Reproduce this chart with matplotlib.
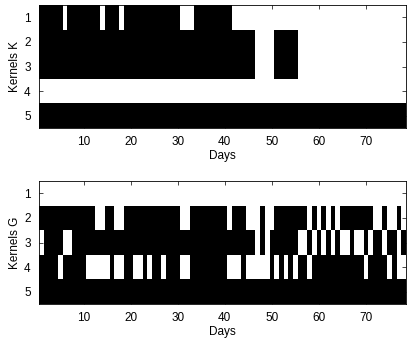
import numpy as np
import matplotlib
matplotlib.use("Agg")
import matplotlib.pyplot as plt

plt.rcParams["font.family"] = ["Liberation Sans", "DejaVu Sans"]

n_days = 78
days = np.arange(1, n_days + 1)
kernels = [1, 2, 3, 4, 5]
x_ticks = [10, 20, 30, 40, 50, 60, 70]


def span(a, b):
    return list(range(a, b + 1))


# days on which each kernel was selected (black cells)
k_selected = {
    1: [d for d in span(1, 41) if d not in [6, 14, 18, 31, 32, 33]],
    2: span(1, 46) + span(51, 55),
    3: span(1, 46) + span(51, 55),
    4: [],
    5: span(1, 78),
}

g_selected = {
    1: [],
    2: span(1, 12) + span(15, 16) + span(19, 30) + span(33, 40) + span(42, 44)
    + [48] + span(51, 57) + [59, 61, 63] + span(65, 71) + [74, 77],
    3: [d for d in span(1, 78)
        if d not in [1, 6, 7, 47, 49, 56, 57, 59, 61, 63, 65, 66, 68, 69, 71, 74, 77]],
    4: [d for d in span(1, 78)
        if d not in [5, 11, 12, 13, 14, 15, 17, 18, 21, 22, 24, 27, 31, 32,
                     41, 42, 43, 45, 46, 47, 48, 49, 51, 53, 55, 58, 70, 75, 77, 78]],
    5: span(1, 78),
}


def to_matrix(sel):
    m = np.zeros((len(kernels), n_days))
    for i, k in enumerate(kernels):
        for d in sel[k]:
            m[i, d - 1] = 1
    return m


fig = plt.figure(figsize=(4.15, 3.41), dpi=100)
ax1 = fig.add_axes([0.094, 0.6246, 0.884, 0.3604])
ax2 = fig.add_axes([0.094, 0.1085, 0.884, 0.3607])

for ax, sel, lab in [(ax1, k_selected, "Kernels K"), (ax2, g_selected, "Kernels G")]:
    ax.imshow(to_matrix(sel), cmap="gray_r", vmin=0, vmax=1, aspect="auto",
              interpolation="nearest", extent=(0.5, n_days + 0.5, 5.5, 0.5))
    ax.set_xticks(x_ticks)
    ax.set_yticks(kernels)
    ax.tick_params(direction="in", length=3, width=0.5, top=True, right=True,
                   labelsize=8.5, pad=6)
    ax.set_xlabel("Days", fontsize=8.5, labelpad=1)
    ax.set_ylabel(lab, fontsize=8.5, labelpad=2)
    for s in ax.spines.values():
        s.set_linewidth(0.6)

fig.savefig("out.png", dpi=100)
